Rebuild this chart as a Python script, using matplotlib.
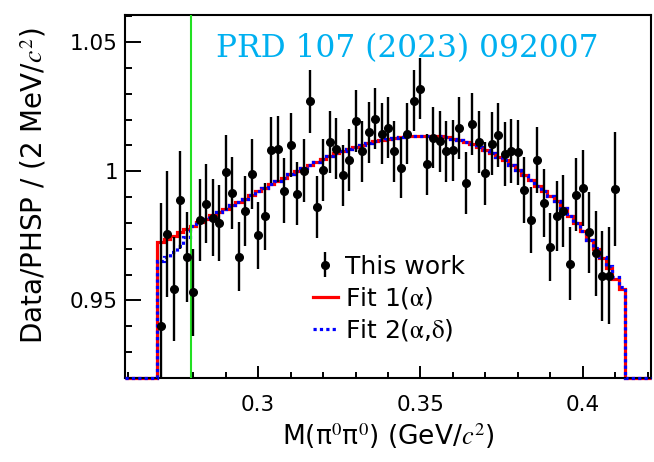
import numpy as np
import matplotlib
matplotlib.use("Agg")
import matplotlib.pyplot as plt
from matplotlib.ticker import MultipleLocator, FuncFormatter

plt.rcParams["font.family"] = ["DejaVu Sans"]
plt.rcParams["mathtext.fontset"] = "stix"

# M(pi0 pi0) data / phase-space ratio, 2 MeV bins centred on 0.270 ... 0.410 GeV
mass = np.round(np.arange(0.270, 0.4105, 0.002), 3)
ratio = [
    0.9402, 0.9757, 0.9544, 0.9888, 0.9670, 0.9531, 0.9810, 0.9875, 0.9820, 0.9800,
    0.9997, 0.9916, 0.9670, 0.9845, 0.9990, 0.9752, 0.9826, 1.0084, 1.0087, 0.9925,
    1.0103, 0.9913, 1.0003, 1.0271, 0.9862, 1.0006, 1.0114, 1.0088, 0.9984, 1.0044,
    1.0194, 1.0078, 1.0152, 1.0204, 1.0145, 1.0168, 1.0078, 1.0013, 1.0145, 1.0274,
    1.0319, 1.0027, 1.0129, 1.0116, 1.0078, 1.0081, 1.0168, 0.9955, 1.0183, 1.0114,
    0.9992, 1.0106, 1.0140, 1.0067, 1.0078, 1.0074, 0.9928, 0.9811, 1.0044, 0.9877,
    0.9707, 0.9826, 0.9845, 0.9642, 0.9910, 0.9937, 0.9764, 0.9683, 0.9596, 0.9596,
    0.9931,
]
ratio_err = [
    0.0476, 0.0245, 0.0200, 0.0190, 0.0174, 0.0167, 0.0159, 0.0153, 0.0149, 0.0147,
    0.0145, 0.0140, 0.0135, 0.0136, 0.0134, 0.0130, 0.0129, 0.0128, 0.0127, 0.0126,
    0.0124, 0.0122, 0.0122, 0.0123, 0.0120, 0.0120, 0.0120, 0.0119, 0.0119, 0.0119,
    0.0119, 0.0118, 0.0118, 0.0118, 0.0118, 0.0118, 0.0118, 0.0118, 0.0118, 0.0118,
    0.0118, 0.0117, 0.0118, 0.0118, 0.0118, 0.0119, 0.0119, 0.0120, 0.0120, 0.0121,
    0.0122, 0.0122, 0.0123, 0.0124, 0.0125, 0.0126, 0.0127, 0.0128, 0.0129, 0.0131,
    0.0132, 0.0135, 0.0139, 0.0141, 0.0142, 0.0147, 0.0157, 0.0164, 0.0174, 0.0187,
    0.0221,
]

# fit histograms: 81 bins of 2 MeV from 0.259 to 0.421 (empty outside 0.269-0.413)
edges = np.round(np.linspace(0.259, 0.421, 82), 3)
fit1 = [0.0] * 5 + [
    0.9725, 0.9738, 0.9751, 0.9764, 0.9777, 0.9790, 0.9803, 0.9816, 0.9829, 0.9842,
    0.9855, 0.9868, 0.9881, 0.9894, 0.9907, 0.9922, 0.9936, 0.9949, 0.9962, 0.9975,
    0.9988, 1.0000, 1.0012, 1.0025, 1.0037, 1.0049, 1.0060, 1.0070, 1.0079, 1.0088,
    1.0096, 1.0103, 1.0110, 1.0116, 1.0121, 1.0125, 1.0129, 1.0132, 1.0135, 1.0137,
    1.0138, 1.0138, 1.0137, 1.0135, 1.0132, 1.0126, 1.0120, 1.0113, 1.0104, 1.0094,
    1.0083, 1.0071, 1.0057, 1.0042, 1.0025, 1.0005, 0.9986, 0.9965, 0.9942, 0.9922,
    0.9903, 0.9884, 0.9858, 0.9828, 0.9800, 0.9768, 0.9735, 0.9698, 0.9664, 0.9625,
    0.9583, 0.9545,
] + [0.0] * 4
fit2 = [0.0] * 5 + [
    0.9651, 0.9667, 0.9686, 0.9710, 0.9745, 0.9790, 0.9803, 0.9816, 0.9829, 0.9842,
    0.9855, 0.9868, 0.9881, 0.9894, 0.9907, 0.9922, 0.9936, 0.9949, 0.9962, 0.9975,
    0.9988, 1.0000, 1.0012, 1.0025, 1.0037, 1.0049, 1.0060, 1.0070, 1.0079, 1.0088,
    1.0096, 1.0103, 1.0110, 1.0116, 1.0121, 1.0125, 1.0129, 1.0132, 1.0135, 1.0137,
    1.0138, 1.0138, 1.0137, 1.0135, 1.0132, 1.0126, 1.0120, 1.0113, 1.0104, 1.0094,
    1.0083, 1.0071, 1.0057, 1.0042, 1.0025, 1.0005, 0.9986, 0.9965, 0.9942, 0.9922,
    0.9903, 0.9884, 0.9858, 0.9828, 0.9800, 0.9768, 0.9735, 0.9702, 0.9670, 0.9632,
    0.9592, 0.9552,
] + [0.0] * 4

cut_mass = 0.2793
XLIM = (0.259, 0.421)
YLIM = (0.92, 1.0605)

fig = plt.figure(figsize=(6.54, 4.62), dpi=100)
ax = fig.add_axes([125 / 654, 84 / 462, 526 / 654, 363 / 462])

# empty bins sit on the frame floor, as ROOT draws them
h1 = np.maximum(fit1, YLIM[0])
h2 = np.maximum(fit2, YLIM[0])
ax.stairs(h1, edges, baseline=None, color="#ff0000", lw=2.3, zorder=2,
          clip_on=False, label=r"Fit 1($\mathrm{\alpha}$)")
ax.stairs(h2, edges, baseline=None, color="#0000ff", lw=2.3, ls=(0, (1, 1)),
          zorder=3, clip_on=False, label=r"Fit 2($\mathrm{\alpha}$,$\mathrm{\delta}$)")
ax.axvline(cut_mass, color="#22e022", lw=1.5, zorder=4)
ax.errorbar(mass, ratio, yerr=ratio_err, fmt="o", color="black", ms=5.5,
            elinewidth=1.7, capsize=0, zorder=5, label="This work")

ax.set_xlim(*XLIM)
ax.set_ylim(*YLIM)
ax.xaxis.set_major_locator(MultipleLocator(0.05))
ax.xaxis.set_minor_locator(MultipleLocator(0.01))
ax.yaxis.set_major_locator(MultipleLocator(0.05))
ax.yaxis.set_minor_locator(MultipleLocator(0.01))
fmt = FuncFormatter(lambda v, p: f"{v:g}")
ax.xaxis.set_major_formatter(fmt)
ax.yaxis.set_major_formatter(fmt)
ax.tick_params(axis="both", which="both", direction="in", width=1.4,
               top=False, right=False, labelsize=15.5)
ax.tick_params(axis="y", which="major", length=11.5, pad=5)
ax.tick_params(axis="y", which="minor", length=5)
ax.tick_params(axis="x", which="major", length=8.5, pad=12)
ax.tick_params(axis="x", which="minor", length=4)
for s in ax.spines.values():
    s.set_linewidth(1.5)

ax.set_xlabel(r"M(π$^{0}$π$^{0}$) (GeV/$c^{2}$)", fontsize=19, labelpad=5)
ax.set_ylabel(r"Data/PHSP / (2 MeV/$c^{2}$)", fontsize=20, loc="top")
ax.yaxis.set_label_coords(-0.146, 0.966)

handles, labels = ax.get_legend_handles_labels()
order = [labels.index("This work"), 0, 1]
ax.legend([handles[i] for i in order], [labels[i] for i in order],
          loc="upper left", bbox_to_anchor=(0.357, 0.34), frameon=False,
          fontsize=18, handlelength=1.0, handletextpad=0.3,
          labelspacing=0.25, borderpad=0, borderaxespad=0)

ax.text(0.173, 0.885, "PRD 107 (2023) 092007", transform=ax.transAxes,
        family="DejaVu Serif", fontsize=22.5, color="#00b0f0", va="baseline")

fig.savefig("out.png", dpi=100)
